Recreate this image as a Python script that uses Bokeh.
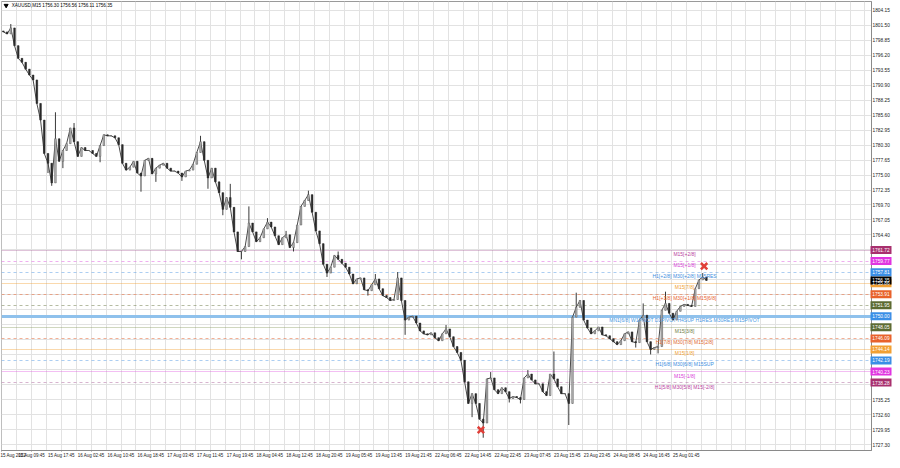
from bokeh.plotting import figure
from bokeh.layouts import row
from bokeh.models import ColumnDataSource, FixedTicker, Range1d, PrintfTickFormatter
from bokeh.embed import file_html
from bokeh.resources import INLINE
from bokeh.core.properties import value

# ---------------- data ----------------
# hourly closes of XAUUSD (each candle = 4 M15 bars)
CLOSE = [
    1800.33, 1799.98, 1801.03, 1797.90, 1795.65, 1794.95, 1793.74, 1792.70, 1791.83, 1787.67,
    1784.72, 1778.82, 1777.08, 1773.61, 1781.42, 1777.43, 1779.34, 1780.55, 1783.33, 1780.90,
    1778.30, 1779.86, 1779.34, 1779.34, 1778.82, 1778.30, 1780.21, 1782.12, 1781.94, 1781.94,
    1781.59, 1780.38, 1777.08, 1775.87, 1776.39, 1777.43, 1775.35, 1774.83, 1777.60, 1777.95,
    1775.18, 1776.22, 1776.74, 1777.08, 1776.22, 1775.70, 1775.70, 1775.35, 1774.66, 1775.70,
    1775.87, 1776.91, 1778.99, 1780.90, 1777.60, 1774.48, 1776.22, 1773.79, 1771.88, 1768.93,
    1771.01, 1769.28, 1764.94, 1761.47, 1761.47, 1762.34, 1766.50, 1764.94, 1763.20, 1763.90,
    1765.46, 1766.67, 1765.81, 1764.25, 1762.68, 1763.90, 1764.42, 1762.16, 1763.03, 1766.15,
    1769.45, 1770.49, 1771.53, 1768.41, 1765.11, 1762.86, 1759.21, 1757.65, 1758.69, 1760.78,
    1760.08, 1759.39, 1758.69, 1757.48, 1755.74, 1756.61, 1756.79, 1754.70, 1754.53, 1755.57,
    1756.61, 1754.88, 1753.66, 1753.32, 1752.80, 1752.97, 1756.79, 1752.80, 1749.33, 1749.85,
    1750.02, 1748.81, 1747.42, 1746.90, 1746.72, 1747.07, 1746.20, 1745.68, 1746.90, 1747.76,
    1746.38, 1744.64, 1743.60, 1742.21, 1738.40, 1734.58, 1736.31, 1734.58, 1731.80, 1731.11,
    1738.92, 1739.09, 1737.01, 1736.31, 1737.35, 1736.66, 1735.45, 1735.79, 1735.62, 1735.27,
    1739.09, 1739.78, 1738.74, 1738.05, 1738.05, 1736.66, 1735.97, 1739.78, 1738.92, 1737.53,
    1736.31, 1736.31, 1734.58, 1749.85, 1751.58, 1752.80, 1749.33, 1747.94, 1746.90, 1747.42,
    1748.11, 1746.72, 1746.55, 1746.03, 1745.51, 1744.99, 1745.68, 1746.90, 1747.24, 1745.51,
    1745.34, 1749.33, 1750.19, 1745.51, 1744.12, 1744.47, 1744.64, 1751.06, 1752.28, 1750.54,
    1749.33, 1750.89, 1751.75, 1752.10, 1751.93, 1751.75, 1754.88, 1756.44, 1756.96, 1756.35,
]
FIRST_OPEN = 1800.50

SPIKE_HI_IDX = [2, 14, 19, 53, 61, 66, 71, 76, 82, 90, 100, 106, 119, 131, 141, 148, 154, 172, 178, 188]
SPIKE_HI = [1801.72, 1786.11, 1784.20, 1781.94, 1773.44, 1769.45, 1767.37, 1765.11, 1772.23, 1761.47,
            1757.48, 1757.83, 1748.46, 1740.13, 1740.48, 1743.77, 1754.18, 1752.28, 1754.36, 1757.65]
SPIKE_LO_IDX = [12, 13, 16, 26, 37, 41, 48, 55, 59, 64, 78, 87, 98, 108, 126, 129, 136, 139, 152, 170, 174, 176]
SPIKE_LO = [1775.35, 1773.09, 1776.22, 1777.26, 1772.05, 1773.79, 1773.96, 1772.57, 1767.89, 1760.08,
            1761.47, 1756.96, 1753.66, 1746.72, 1732.15, 1728.51, 1734.75, 1734.58, 1730.76, 1744.47,
            1743.25, 1743.43]

TIME_TICKS = [0, 32, 64, 96, 128, 160, 192, 224, 256, 288, 320, 352, 384, 416, 448,
              480, 512, 544, 576, 608, 640, 672, 704, 736]
TIME_LABELS = ["15 Aug 2022", "15 Aug 09:45", "15 Aug 17:45", "16 Aug 02:45", "16 Aug 10:45",
               "16 Aug 18:45", "17 Aug 03:45", "17 Aug 11:45", "17 Aug 19:45", "18 Aug 04:45",
               "18 Aug 12:45", "18 Aug 20:45", "19 Aug 05:45", "19 Aug 13:45", "19 Aug 21:45",
               "22 Aug 06:45", "22 Aug 14:45", "22 Aug 22:45", "23 Aug 07:45", "23 Aug 15:45",
               "23 Aug 23:45", "24 Aug 08:45", "24 Aug 16:45", "25 Aug 01:45"]

PRICE_TICKS = [1727.30, 1729.95, 1732.60, 1735.25, 1737.90, 1740.55, 1743.20, 1745.85, 1748.50,
               1751.15, 1753.80, 1756.45, 1759.10, 1761.75, 1764.40, 1767.05, 1769.70, 1772.35,
               1775.00, 1777.65, 1780.30, 1782.95, 1785.60, 1788.25, 1790.90, 1793.55, 1796.20,
               1798.85, 1801.50, 1804.15]
PRICE_TICKS_COVERED = [1737.90, 1740.55, 1743.20, 1745.85, 1748.50, 1751.15, 1753.80, 1756.45,
                       1759.10, 1761.75]

LEVELS = [1761.72, 1759.77, 1757.81, 1755.86, 1753.91, 1751.95, 1750.00,
          1748.05, 1746.09, 1744.14, 1742.19, 1740.23, 1738.28]
LEVEL_TEXT = ["M15[+2/8]", "M15[+1/8]", "H1[+2/8] M30[+2/8] M15RES", "M15[7/8]",
              "H1[+1/8] M30[+1/8] M15[6/8]", "",
              "MN1[6/8] W1PIVOT D1PIVOT H4SUP H1RES M30RES M15PIVOT",
              "M15[3/8]", "H1[7/8] M30[7/8] M15[2/8]", "M15[1/8]", "H1[6/8] M30[6/8] M15SUP",
              "M15[-1/8]", "H1[5/8] M30[5/8] M15[-2/8]"]
CURRENT_PRICE = 1756.35
HEADER = "XAUUSD,M15  1756.30 1756.56 1756.11 1756.35"

MARK_BAR = [755, 515]
MARK_PRICE = [1758.87, 1729.89]

# ---------------- styles ----------------
LEVEL_COLOR = ["#a8306e", "#e035e0", "#3a8ee6", "#f2a033", "#e8622c", "#5c6b33", "#3a8ee6",
               "#5c6b33", "#e8622c", "#f2a033", "#3a8ee6", "#e035e0", "#a8306e"]
LINE_COLOR = ["#b06aa0", "#e060e0", "#5a9ee6", "#f2a033", "#e8622c", "#6b7a45", "#8fc1ec",
              "#8a9a60", "#e8622c", "#f2a033", "#5a9ee6", "#e060e0", "#b06aa0"]
TEXT_COLOR = ["#b8409e", "#d83cd8", "#3d8ee0", "#f0a030", "#e8622c", "#6e7e45", "#4a9ae4",
              "#6e7e45", "#e06a30", "#f0a030", "#3d8ee0", "#d83cd8", "#b8409e"]
LEVEL_DASH = ["solid", "dashed", "dashed", "solid", "dashed", "dashed", "thick",
              "solid", "dashed", "solid", "dashed", "solid", "dashed"]
FONT = "Liberation Sans"
X_END = 935
BOTTOM = 10
SIDE_W = 24

# ---------------- candles ----------------
n = len(CLOSE)
opens = [FIRST_OPEN] + CLOSE[:-1]
highs = [max(o, c) for o, c in zip(opens, CLOSE)]
lows = [min(o, c) for o, c in zip(opens, CLOSE)]
for i, v in zip(SPIKE_HI_IDX, SPIKE_HI):
    highs[i] = max(highs[i], v)
for i, v in zip(SPIKE_LO_IDX, SPIKE_LO):
    lows[i] = min(lows[i], v)
xs = [4 * i + 1.5 for i in range(n)]
up = [c >= o for o, c in zip(opens, CLOSE)]
src = ColumnDataSource(dict(
    x=xs, open=opens, close=CLOSE, high=highs, low=lows,
    top=[max(o, c) for o, c in zip(opens, CLOSE)],
    bottom=[min(o, c) for o, c in zip(opens, CLOSE)],
    fill=["#b4b4b4" if u else "#2a2a2a" for u in up],
    edge=["#5e5e5e" if u else "#2a2a2a" for u in up],
))

yr = Range1d(1726.25, 1805.71)
p = figure(width=892, height=460, x_range=Range1d(-0.5, X_END), y_range=yr,
           y_axis_location="right", output_backend="svg", toolbar_location=None,
           min_border_left=1, min_border_top=1, min_border_right=0, min_border_bottom=BOTTOM,
           background_fill_color="white", border_fill_color="white")
p.outline_line_color = "#9a9a9a"

# grid
p.xgrid.ticker = FixedTicker(ticks=[16 * k for k in range(60)])
p.ygrid.ticker = FixedTicker(ticks=PRICE_TICKS)
p.xgrid.grid_line_color = "#e2e2e2"
p.ygrid.grid_line_color = "#e2e2e2"

# axes
p.xaxis.ticker = FixedTicker(ticks=TIME_TICKS)
p.xaxis.major_label_overrides = {t: l for t, l in zip(TIME_TICKS, TIME_LABELS)}
p.xaxis.major_label_text_align = "left"
p.xaxis.major_label_text_font = FONT
p.xaxis.major_label_text_font_size = "4.5px"
p.xaxis.major_label_text_color = "#222222"
p.xaxis.major_label_standoff = 1
p.xaxis.major_tick_in = 0
p.xaxis.major_tick_out = 1
p.xaxis.minor_tick_out = 0
p.xaxis.axis_line_color = "#8a8a8a"
p.xaxis.major_tick_line_color = "#8a8a8a"

shown = [t for t in PRICE_TICKS if t not in PRICE_TICKS_COVERED]
p.yaxis.ticker = FixedTicker(ticks=shown)
p.yaxis.formatter = PrintfTickFormatter(format="%.2f")
p.yaxis.major_label_text_font = FONT
p.yaxis.major_label_text_font_size = "4.8px"
p.yaxis.major_label_text_color = "#222222"
p.yaxis.major_label_standoff = 1
p.yaxis.major_tick_in = 0
p.yaxis.major_tick_out = 0
p.yaxis.minor_tick_out = 0
p.yaxis.axis_line_color = "#8a8a8a"

# level lines
for lv, col, st in zip(LEVELS, LINE_COLOR, LEVEL_DASH):
    if st == "thick":
        p.hspan(y=[lv], line_color=col, line_width=3)
    elif st == "dashed":
        p.hspan(y=[lv], line_color=col, line_alpha=0.5, line_width=1, line_dash="3 3")
    else:
        p.hspan(y=[lv], line_color=col, line_alpha=0.4, line_width=1)

# candles
p.line(x="x", y="close", source=src, line_color="#4a4a4a", line_width=1)
p.segment(x0="x", y0="low", x1="x", y1="high", source=src, line_color="#3a3a3a", line_width=1)
p.vbar(x="x", width=1.8, top="top", bottom="bottom", source=src,
       fill_color="fill", line_color="edge", line_width=0.5)

# level texts
for lv, txt, tc in zip(LEVELS, LEVEL_TEXT, TEXT_COLOR):
    if txt:
        p.text(x=[734], y=[lv], text=[txt], text_font=value(FONT), text_font_size="5px",
               text_color=tc, text_align="center", text_baseline="top", y_offset=1)

# red cross markers
p.scatter(x=MARK_BAR, y=MARK_PRICE, marker="x", size=9, line_width=2.5, line_color="#e0403a")

# header
p.scatter(x=[4.5], y=[1805.0], marker="inverted_triangle", size=4, color="#000000")
p.text(x=[10.5], y=[1805.0], text=[HEADER], text_font=value(FONT), text_font_size="4.6px",
       text_color="#000000", text_baseline="middle", text_align="left")

# ---------------- price boxes: transparent strip laid over the right scale ----------------
s = figure(width=SIDE_W, height=460, x_range=Range1d(0, SIDE_W), y_range=yr,
           output_backend="svg", toolbar_location=None,
           x_axis_location=None, y_axis_location=None,
           min_border_left=0, min_border_right=0, min_border_top=1, min_border_bottom=BOTTOM,
           margin=(0, 0, 0, -SIDE_W))
s.background_fill_alpha = 0
s.border_fill_alpha = 0
s.outline_line_color = None
s.grid.visible = False
box_src = ColumnDataSource(dict(
    y=LEVELS + [CURRENT_PRICE],
    text=["%.2f" % v for v in LEVELS + [CURRENT_PRICE]],
    bg=LEVEL_COLOR + ["#000000"],
))
s.rect(x=12.5, y="y", width=21, height=8, height_units="screen", source=box_src,
       fill_color="bg", line_color=None)
s.text(x=12.5, y="y", text="text", source=box_src, text_font=value(FONT),
       text_font_size="4.8px", text_color="white", text_align="center", text_baseline="middle")

layout = row(p, s, spacing=0)
open("out.html", "w").write(file_html(layout, INLINE))
